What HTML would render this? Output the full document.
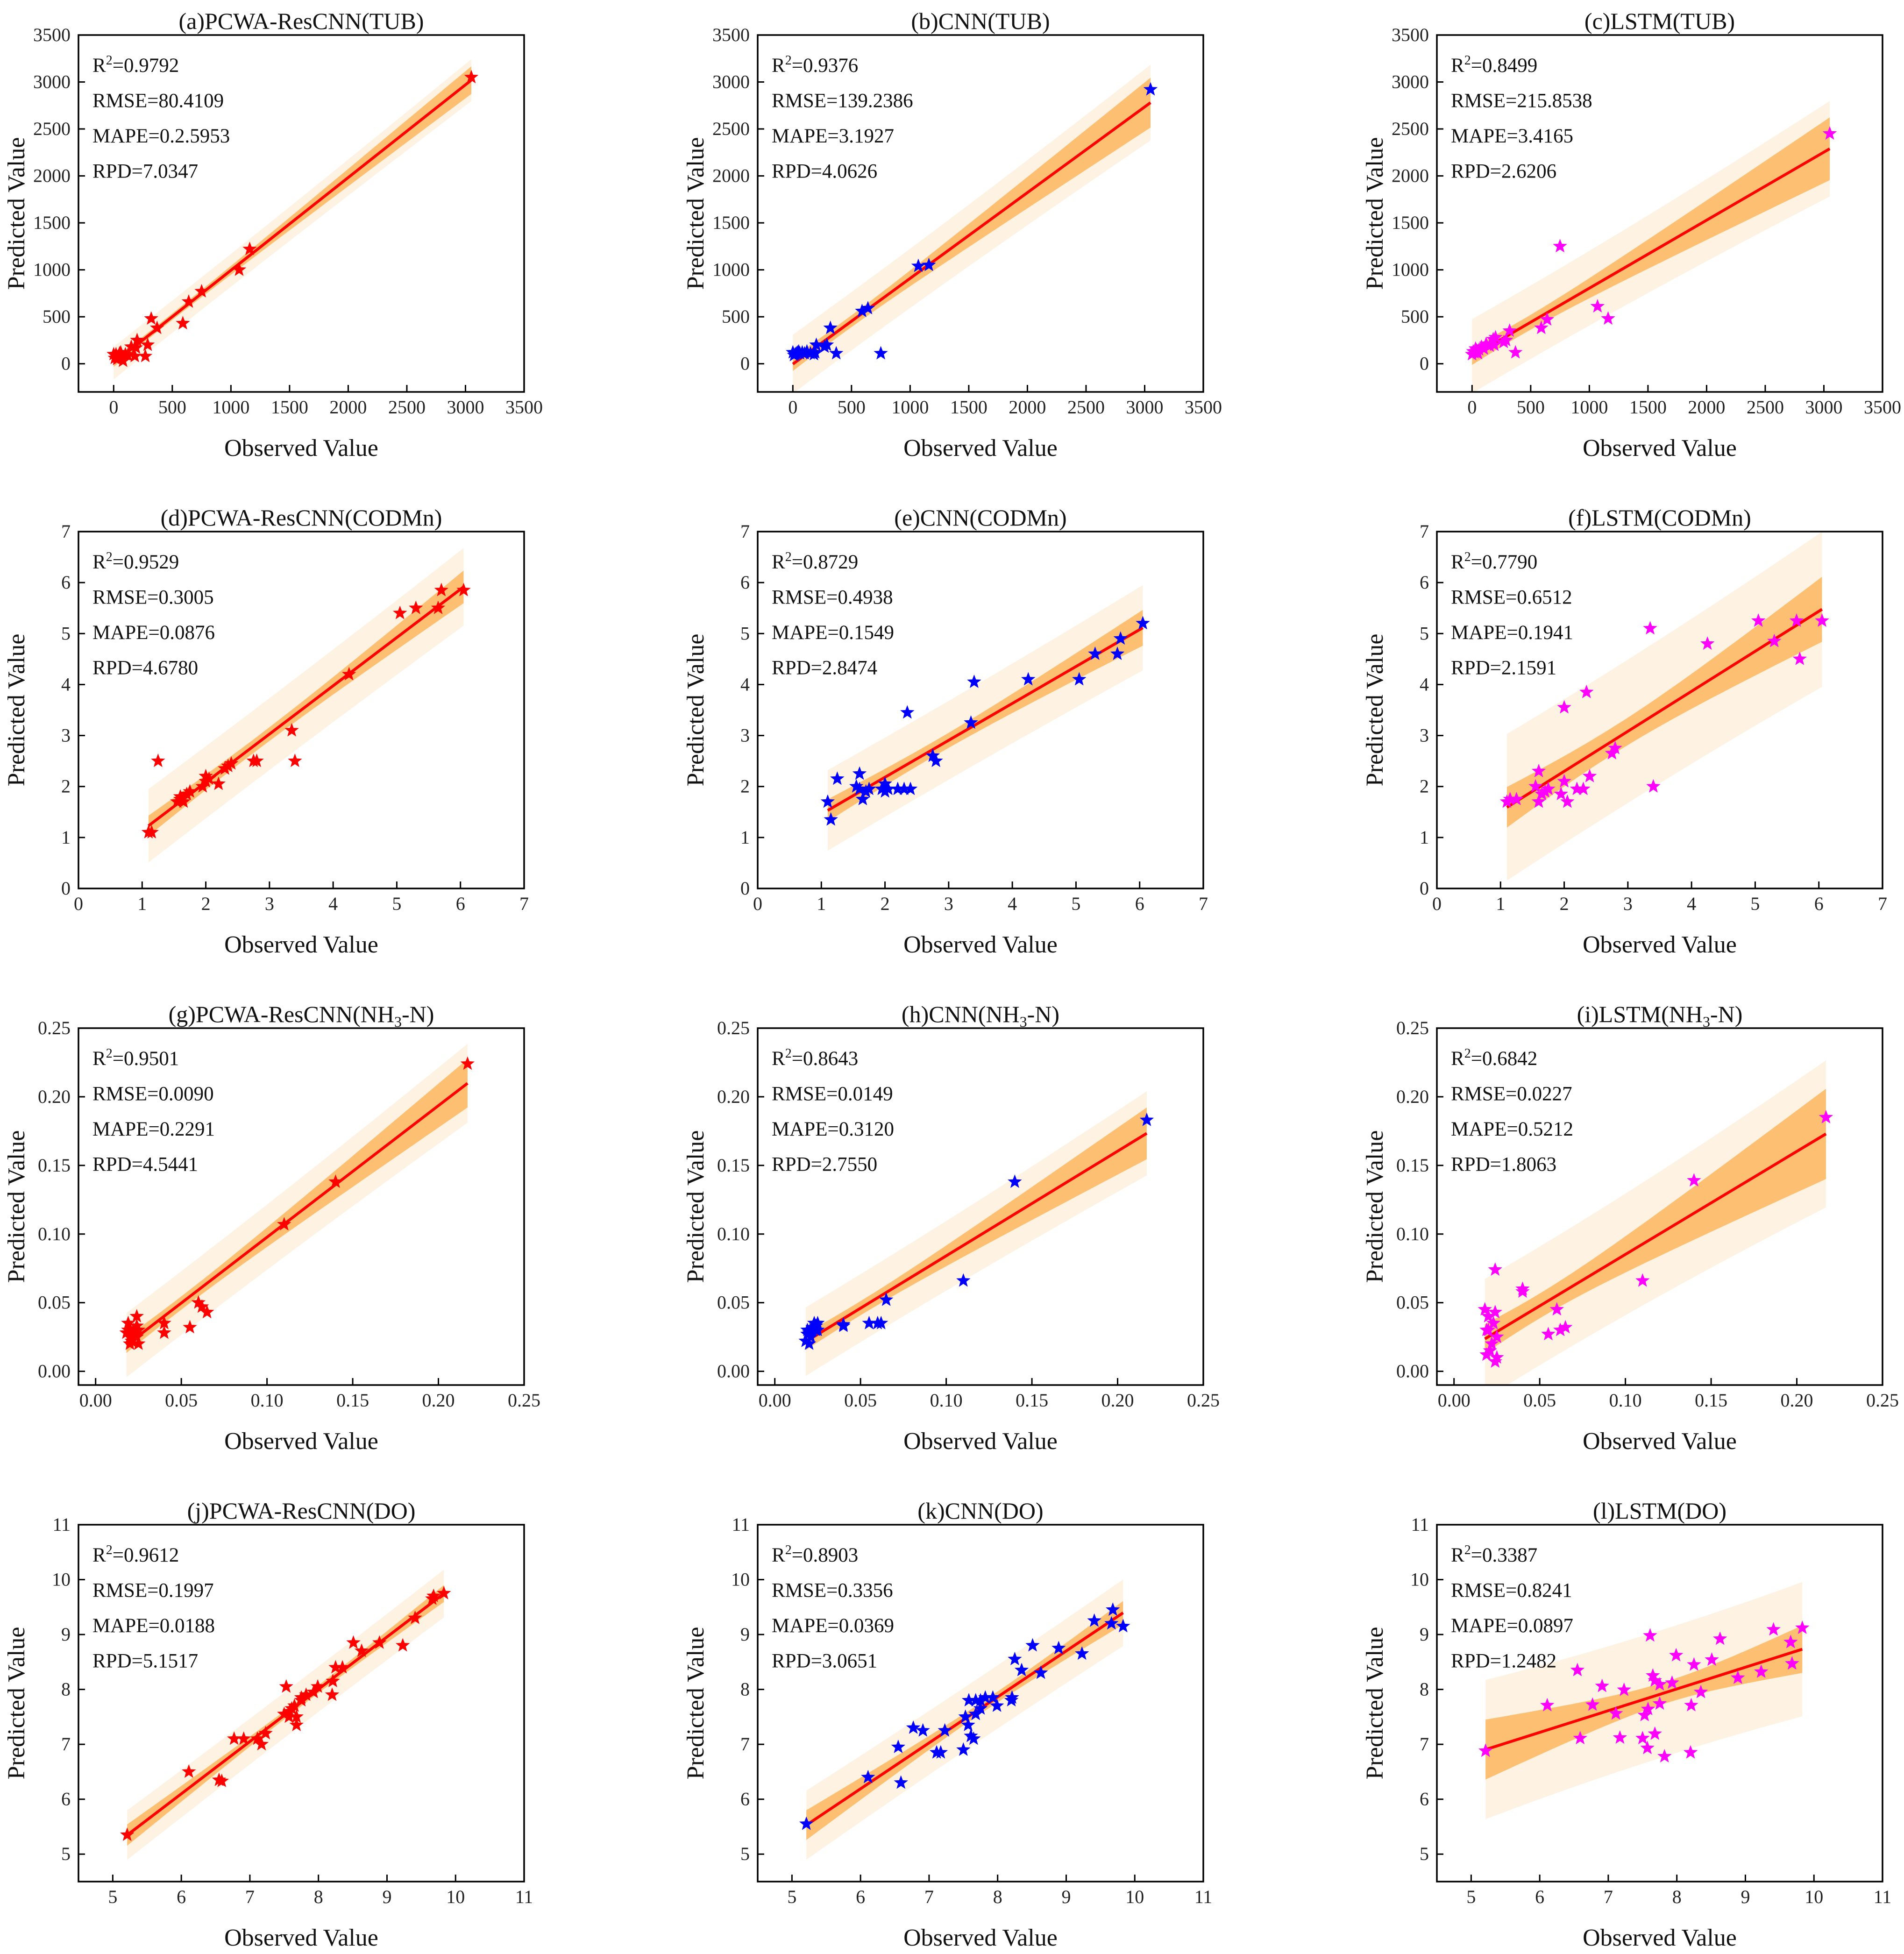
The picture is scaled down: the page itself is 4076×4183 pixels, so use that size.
<!DOCTYPE html>
<html><head><meta charset="utf-8"><title>Predicted vs Observed</title>
<style>
html,body{margin:0;padding:0;background:#fff;}
svg{display:block;font-family:"Liberation Serif",serif;}
</style></head>
<body>
<svg id="chart" width="4076" height="4183" viewBox="0 0 4076 4183" xmlns="http://www.w3.org/2000/svg"></svg>
<script>
// ---------- DATA ----------
const tubObs   = [3050,1160,1070,750,640,590,370,320,290,270,200,190,180,150,100,80,60,40,20,0,10,120,50,30];
const tubPcwa  = [3050,1220,1000,770,660,430,380,480,200,80,250,170,80,180,100,30,120,80,100,100,60,90,110,50];
const tubCnn   = [2920,1050,1040,110,590,560,110,380,200,180,200,120,100,110,110,120,110,120,100,120,90,130,130,110];
const tubLstm  = [2450,480,610,1250,470,380,120,350,250,230,280,200,260,190,160,180,150,140,120,100,130,210,110,160];

const codObs   = [1.1,1.15,1.25,1.55,1.6,1.6,1.65,1.7,1.75,1.95,2.0,2.0,2.05,2.2,2.3,2.4,2.35,2.75,2.8,3.35,3.4,4.25,5.05,5.3,5.65,5.7,6.05];
const codPcwa  = [1.1,1.1,2.5,1.7,1.75,1.8,1.7,1.85,1.9,2.0,2.2,2.1,2.15,2.05,2.35,2.45,2.4,2.5,2.5,3.1,2.5,4.2,5.4,5.5,5.5,5.85,5.85];
const codCnn   = [1.7,1.35,2.15,2.0,2.25,1.95,1.75,1.9,1.95,1.95,2.05,1.9,1.95,1.95,1.95,1.95,3.45,2.6,2.5,3.25,4.05,4.1,4.1,4.6,4.6,4.9,5.2];
const codLstm  = [1.7,1.75,1.75,2.0,2.3,1.7,1.85,1.9,1.95,1.85,2.1,3.55,1.7,1.95,1.95,2.2,3.85,2.65,2.75,5.1,2.0,4.8,5.25,4.85,5.25,4.5,5.25];

const nhObs    = [0.018,0.019,0.02,0.021,0.022,0.023,0.024,0.025,0.025,0.02,0.04,0.04,0.055,0.06,0.062,0.065,0.11,0.14,0.217,0.019,0.024,0.024];
const nhPcwa   = [0.028,0.035,0.025,0.022,0.03,0.027,0.04,0.02,0.03,0.02,0.028,0.035,0.032,0.05,0.047,0.043,0.107,0.138,0.224,0.03,0.025,0.033];
const nhCnn    = [0.022,0.03,0.028,0.025,0.032,0.035,0.033,0.03,0.035,0.02,0.033,0.034,0.035,0.035,0.035,0.052,0.066,0.138,0.183,0.027,0.03,0.033];
const nhLstm   = [0.045,0.03,0.04,0.015,0.02,0.035,0.074,0.01,0.025,0.03,0.06,0.058,0.027,0.045,0.03,0.032,0.066,0.139,0.185,0.012,0.007,0.043];

const doObs    = [5.21,6.11,6.55,6.59,6.77,6.91,7.11,7.17,7.23,7.50,7.53,7.57,7.58,7.61,7.65,7.68,7.68,7.75,7.75,7.82,7.93,7.99,8.2,8.21,8.25,8.35,8.51,8.63,8.89,9.23,9.41,9.66,9.68,9.83];
const doPcwa   = [5.35,6.5,6.35,6.33,7.1,7.1,7.1,7.0,7.2,7.55,8.05,7.5,7.6,7.65,7.7,7.35,7.5,7.8,7.85,7.9,7.95,8.05,7.9,8.15,8.4,8.4,8.85,8.7,8.85,8.8,9.3,9.65,9.7,9.75];
const doCnn    = [5.55,6.4,6.95,6.3,7.3,7.25,6.85,6.85,7.25,6.9,7.5,7.35,7.8,7.15,7.1,7.55,7.8,7.8,7.65,7.85,7.85,7.7,7.8,7.85,8.55,8.35,8.8,8.3,8.75,8.65,9.25,9.2,9.45,9.15];
const doLstm   = [6.88,7.71,8.35,7.11,7.72,8.06,7.56,7.12,7.99,7.11,7.53,6.93,7.64,8.98,8.25,8.16,7.19,7.74,8.09,6.78,8.12,8.62,6.85,7.71,8.45,7.95,8.54,8.92,8.21,8.32,9.09,8.86,8.47,9.12];

const tubTicks = [0,500,1000,1500,2000,2500,3000,3500];
const codTicks = [0,1,2,3,4,5,6,7];
const nhTicks  = [0,0.05,0.10,0.15,0.20,0.25];
const doTicks  = [5,6,7,8,9,10,11];

const titles = ["(a)PCWA-ResCNN(TUB)","(b)CNN(TUB)","(c)LSTM(TUB)",
  "(d)PCWA-ResCNN(CODMn)","(e)CNN(CODMn)","(f)LSTM(CODMn)",
  "(g)PCWA-ResCNN(NH3-N)","(h)CNN(NH3-N)","(i)LSTM(NH3-N)",
  "(j)PCWA-ResCNN(DO)","(k)CNN(DO)","(l)LSTM(DO)"];
const statR2   = ["0.9792","0.9376","0.8499","0.9529","0.8729","0.7790","0.9501","0.8643","0.6842","0.9612","0.8903","0.3387"];
const statRmse = ["80.4109","139.2386","215.8538","0.3005","0.4938","0.6512","0.0090","0.0149","0.0227","0.1997","0.3356","0.8241"];
const statMape = ["0.2.5953","3.1927","3.4165","0.0876","0.1549","0.1941","0.2291","0.3120","0.5212","0.0188","0.0369","0.0897"];
const statRpd  = ["7.0347","4.0626","2.6206","4.6780","2.8474","2.1591","4.5441","2.7550","1.8063","5.1517","3.0651","1.2482"];

// ---------- LAYOUT ----------
const NS="http://www.w3.org/2000/svg";
const svg=document.getElementById('chart');
const COLS=[168,1622,3076], ROWS=[75,1138,2201,3264], W=954, H=764;
const rowCfg=[
 {obs:tubObs, preds:[tubPcwa,tubCnn,tubLstm], min:-300, max:3500, ticks:tubTicks, fmt:v=>String(v), key:"tub"},
 {obs:codObs, preds:[codPcwa,codCnn,codLstm], min:0, max:7, ticks:codTicks, fmt:v=>String(v), key:"codmn"},
 {obs:nhObs,  preds:[nhPcwa,nhCnn,nhLstm], min:-0.01, max:0.25, ticks:nhTicks, fmt:v=>v.toFixed(2), key:"nh3n"},
 {obs:doObs,  preds:[doPcwa,doCnn,doLstm], min:4.5, max:11, ticks:doTicks, fmt:v=>String(v), key:"do"}
];
const colors=["#ff0000","#0000ff","#ff00ff"];
const models=["pcwa-rescnn","cnn","lstm"];

function el(tag,attrs,parent){const e=document.createElementNS(NS,tag);for(const k in attrs)e.setAttribute(k,attrs[k]);(parent||svg).appendChild(e);return e;}
function starPath(cx,cy,R){const r=R*0.42;let d="";for(let i=0;i<10;i++){const a=-Math.PI/2+i*Math.PI/5;const rr=i%2?r:R;d+=(i?"L":"M")+(cx+rr*Math.cos(a)).toFixed(1)+","+(cy+rr*Math.sin(a)).toFixed(1);}return d+"Z";}

function regress(x,y){const n=x.length;const mx=x.reduce((a,b)=>a+b)/n,my=y.reduce((a,b)=>a+b)/n;
 let sxx=0,sxy=0;for(let i=0;i<n;i++){sxx+=(x[i]-mx)**2;sxy+=(x[i]-mx)*(y[i]-my);}
 const b=sxy/sxx,a=my-b*mx;let sse=0;for(let i=0;i<n;i++)sse+=(y[i]-a-b*x[i])**2;
 const s=Math.sqrt(sse/(n-2));return{a,b,s,n,mx,sxx};}

for(let r=0;r<4;r++){
 const cfg=rowCfg[r];
 for(let c=0;c<3;c++){
  const idx=r*3+c, L=COLS[c], T=ROWS[r], B=T+H, R=L+W;
  const xs=v=>L+(v-cfg.min)/(cfg.max-cfg.min)*W;
  const ys=v=>B-(v-cfg.min)/(cfg.max-cfg.min)*H;
  const g=el('g',{});
  
  
  const clip=el('clipPath',{id:'clip'+idx},g);el('rect',{x:L,y:T,width:W,height:H},clip);
  const obs=cfg.obs, pred=cfg.preds[c];
  const fit=regress(obs,pred);
  const xmin=Math.min(...obs), xmax=Math.max(...obs);
  const t=2.05, N=40;
  const up1=[],lo1=[],up2=[],lo2=[];
  for(let i=0;i<=N;i++){const x=xmin+(xmax-xmin)*i/N;const yh=fit.a+fit.b*x;
   const se=fit.s*Math.sqrt(1/fit.n+(x-fit.mx)**2/fit.sxx);
   const sp=fit.s*Math.sqrt(1+1/fit.n+(x-fit.mx)**2/fit.sxx);
   up1.push([xs(x),ys(yh+t*se)]);lo1.push([xs(x),ys(yh-t*se)]);
   up2.push([xs(x),ys(yh+t*sp)]);lo2.push([xs(x),ys(yh-t*sp)]);}
  const poly=(u,l)=>u.concat(l.reverse()).map(p=>p[0].toFixed(1)+","+p[1].toFixed(1)).join(" ");
  const cg=el('g',{'clip-path':'url(#clip'+idx+')'},g);
  const pb=el('polygon',{points:poly(up2,lo2),fill:"#fef3e2"},cg);
  
  
  const cb=el('polygon',{points:poly(up1,lo1),fill:"#fdbf72"},cg);
  
  
  const fl=el('line',{x1:xs(xmin),y1:ys(fit.a+fit.b*xmin),x2:xs(xmax),y2:ys(fit.a+fit.b*xmax),stroke:"#ff0000","stroke-width":6},cg);
  
  
  for(let i=0;i<obs.length;i++){
   const p=el('path',{d:starPath(xs(obs[i]),ys(pred[i]),16),fill:colors[c]},cg);
   
   
  }
  const fr=el('rect',{x:L,y:T,width:W,height:H,fill:"none",stroke:"#000","stroke-width":3.5},g);
  
  
  cfg.ticks.forEach(v=>{
   el('line',{x1:L,y1:ys(v),x2:L+14,y2:ys(v),stroke:"#000","stroke-width":3},g);
   el('line',{x1:xs(v),y1:B,x2:xs(v),y2:B-15,stroke:"#000","stroke-width":3},g);
   const ty=el('text',{x:L-17,y:ys(v)+13,'text-anchor':'end','font-size':40,fill:"#222"},g);ty.textContent=cfg.fmt(v);
   
   
   const tx=el('text',{x:xs(v),y:B+46,'text-anchor':'middle','font-size':40,fill:"#222"},g);tx.textContent=cfg.fmt(v);
   
   
  });
  const ti=el('text',{x:L+W/2,y:T-13,'text-anchor':'middle','font-size':50,fill:"#111"},g);
  
  
  if(r===2){const tt=titles[idx].split("NH3-N");ti.appendChild(document.createTextNode(tt[0]+"NH"));
   const sb=el('tspan',{'font-size':32,dy:10},ti);sb.textContent="3";
   const rs=el('tspan',{dy:-10},ti);rs.textContent="-N"+tt[1];}
  else ti.textContent=titles[idx];
  const lines=[["R","=" + statR2[idx]],["RMSE="+statRmse[idx]],["MAPE="+statMape[idx]],["RPD="+statRpd[idx]]];
  lines.forEach((ln,k)=>{
   const st=el('text',{x:L+30,y:T+79+k*75.5,'font-size':43,fill:"#111"},g);
   
   
   if(k===0){st.appendChild(document.createTextNode("R"));const sp=el('tspan',{'font-size':28,dy:-16},st);sp.textContent="2";const rest=el('tspan',{dy:16},st);rest.textContent=ln[1];}
   else st.textContent=ln[0];
  });
  const xl=el('text',{x:L+W/2,y:B+137,'text-anchor':'middle','font-size':52,fill:"#111"},g);xl.textContent="Observed Value";
  
  
  const yx=L-133+17, yy=T+H/2;
  const yl=el('text',{x:yx,y:yy,'text-anchor':'middle','font-size':52,fill:"#111",transform:`rotate(-90 ${yx} ${yy})`},g);yl.textContent="Predicted Value";
  
  
 }
}
</script>
</body></html>
